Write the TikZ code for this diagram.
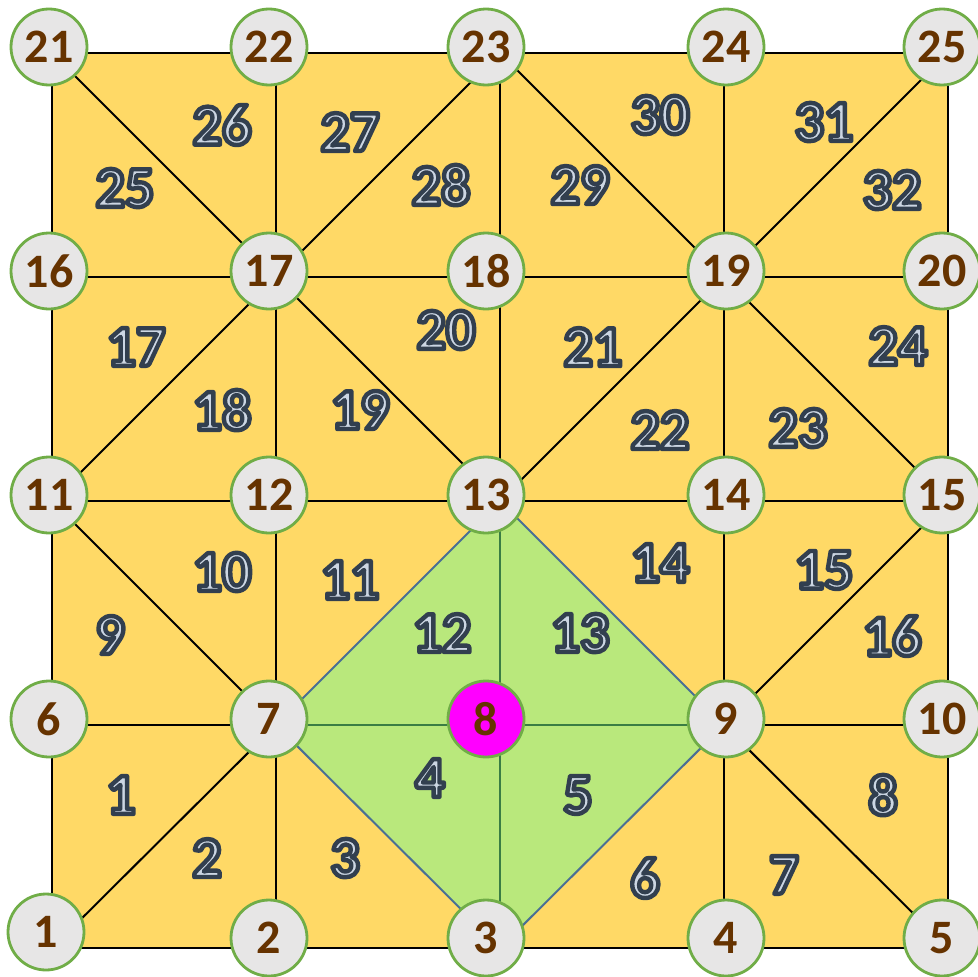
\documentclass[tikz,border=0pt]{standalone}
\usepackage{fontspec}
\setmainfont{Carlito}
\definecolor{meshyellow}{HTML}{FFD966}
\definecolor{meshgreen}{HTML}{B9E87C}
\definecolor{diamondedge}{HTML}{4A6F94}
\definecolor{innergreen}{HTML}{3A7D44}
\definecolor{circfill}{HTML}{E7E6E6}
\definecolor{circedge}{HTML}{70AD47}
\definecolor{numbrown}{HTML}{663300}
\definecolor{puremagenta}{RGB}{255,0,255}
\tikzset{
  meshline/.style={draw=black,line width=2pt},
  greenline/.style={draw=innergreen,line width=1.8pt},
  diamondline/.style={draw=diamondedge,line width=2pt,line join=round},
  vertex/.style={circle,fill=circfill,draw=circedge,line width=2.8pt,minimum size=76pt,inner sep=0pt,
    font=\fontsize{48}{48}\selectfont\bfseries,text=numbrown},
  centervertex/.style={vertex,fill=puremagenta},
  elem/.style={inner sep=0pt,font=\fontsize{58}{58}\selectfont\bfseries}
}
\newcommand{\elemtext}[1]{{\special{pdf:literal direct 2 Tr 4.4 w 1 j 0.196 0.247 0.31 RG 0.80 0.84 0.89 rg}#1\special{pdf:literal direct 0 Tr 1 w}}}
\begin{document}
\begin{tikzpicture}[x=1pt,y=-1pt]
\useasboundingbox (0,0) rectangle (977,977);
% grid points
\foreach \r [count=\ri from 0] in {948,725,501,277,53}
  \foreach \c [count=\ci from 1] in {52,276,500,724,948} {
    \pgfmathtruncatemacro\n{\ri*5+\ci}
    \coordinate (g\n) at (\c,\r);
  }
% fills
\fill[meshyellow] (g1) rectangle (g25);
\fill[meshgreen] (g7) -- (g13) -- (g9) -- (g3) -- cycle;
% black mesh lines
\draw[meshline] (g1) -- (g5);
\draw[meshline] (g6) -- (g7);
\draw[meshline] (g9) -- (g10);
\draw[meshline] (g11) -- (g15);
\draw[meshline] (g16) -- (g20);
\draw[meshline] (g21) -- (g25);
\draw[meshline] (g1) -- (g21);
\draw[meshline] (g2) -- (g22);
\draw[meshline] (g13) -- (g23);
\draw[meshline] (g4) -- (g24);
\draw[meshline] (g5) -- (g25);
\draw[meshline] (g1) -- (g7);
\draw[meshline] (g9) -- (g5);
\draw[meshline] (g11) -- (g7);
\draw[meshline] (g9) -- (g15);
\draw[meshline] (g11) -- (g17);
\draw[meshline] (g17) -- (g13);
\draw[meshline] (g13) -- (g19);
\draw[meshline] (g19) -- (g15);
\draw[meshline] (g21) -- (g17);
\draw[meshline] (g17) -- (g23);
\draw[meshline] (g23) -- (g19);
\draw[meshline] (g19) -- (g25);
% green diamond
\draw[greenline] (g7) -- (g9);
\draw[greenline] (g3) -- (g13);
\draw[diamondline] (g7) -- (g13) -- (g9) -- (g3) -- cycle;
% element labels
\node[elem] (e1) at (121,795) {\elemtext{1}};
\node[elem] (e2) at (207,858) {\elemtext{2}};
\node[elem] (e3) at (345,858) {\elemtext{3}};
\node[elem] (e4) at (430,778) {\elemtext{4}};
\node[elem] (e5) at (578,795) {\elemtext{5}};
\node[elem] (e6) at (645,878) {\elemtext{6}};
\node[elem] (e7) at (784,875) {\elemtext{7}};
\node[elem] (e8) at (883,795) {\elemtext{8}};
\node[elem] (e9) at (110,635) {\elemtext{9}};
\node[elem] (e10) at (222,572) {\elemtext{10}};
\node[elem] (e11) at (350,580) {\elemtext{11}};
\node[elem] (e12) at (442,633) {\elemtext{12}};
\node[elem] (e13) at (580,633) {\elemtext{13}};
\node[elem] (e14) at (660,563) {\elemtext{14}};
\node[elem] (e15) at (824,570) {\elemtext{15}};
\node[elem] (e16) at (892,636) {\elemtext{16}};
\node[elem] (e17) at (136,347) {\elemtext{17}};
\node[elem] (e18) at (222,410) {\elemtext{18}};
\node[elem] (e19) at (360,410) {\elemtext{19}};
\node[elem] (e20) at (446,330) {\elemtext{20}};
\node[elem] (e21) at (593,347) {\elemtext{21}};
\node[elem] (e22) at (660,430) {\elemtext{22}};
\node[elem] (e23) at (798,428) {\elemtext{23}};
\node[elem] (e24) at (898,346) {\elemtext{24}};
\node[elem] (e25) at (125,188) {\elemtext{25}};
\node[elem] (e26) at (222,125) {\elemtext{26}};
\node[elem] (e27) at (350,132) {\elemtext{27}};
\node[elem] (e28) at (441,185) {\elemtext{28}};
\node[elem] (e29) at (580,185) {\elemtext{29}};
\node[elem] (e30) at (660,115) {\elemtext{30}};
\node[elem] (e31) at (824,122) {\elemtext{31}};
\node[elem] (e32) at (892,190) {\elemtext{32}};
% vertices
\node[vertex] (n1) at (46,932) {1};
\node[vertex] (n2) at (269,938) {2};
\node[vertex] (n3) at (486,938) {3};
\node[vertex] (n4) at (726,938) {4};
\node[vertex] (n5) at (942,938) {5};
\node[vertex] (n6) at (49,719) {6};
\node[vertex] (n7) at (269,719) {7};
\node[centervertex] (n8) at (486,719) {8};
\node[vertex] (n9) at (726,719) {9};
\node[vertex] (n10) at (942,719) {10};
\node[vertex] (n11) at (49,495) {11};
\node[vertex] (n12) at (269,495) {12};
\node[vertex] (n13) at (486,495) {13};
\node[vertex] (n14) at (726,495) {14};
\node[vertex] (n15) at (942,495) {15};
\node[vertex] (n16) at (49,271) {16};
\node[vertex] (n17) at (269,271) {17};
\node[vertex] (n18) at (486,271) {18};
\node[vertex] (n19) at (726,271) {19};
\node[vertex] (n20) at (942,271) {20};
\node[vertex] (n21) at (49,47) {21};
\node[vertex] (n22) at (269,47) {22};
\node[vertex] (n23) at (486,47) {23};
\node[vertex] (n24) at (726,47) {24};
\node[vertex] (n25) at (942,47) {25};
\end{tikzpicture}
\end{document}
